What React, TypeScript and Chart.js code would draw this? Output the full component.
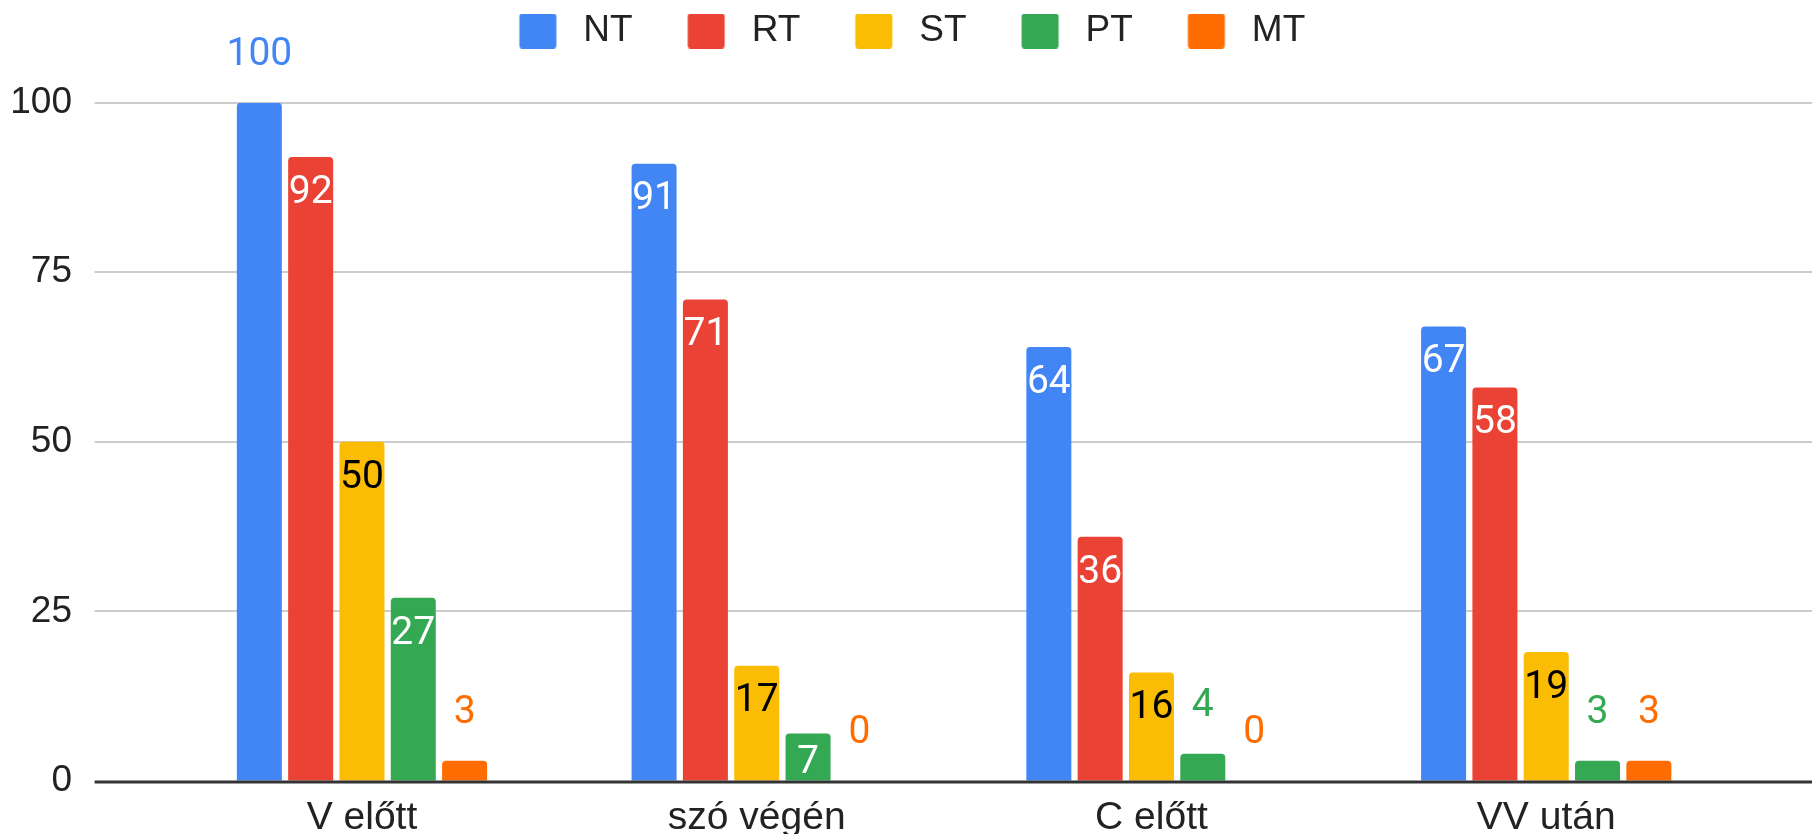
import React, { useEffect, useRef } from 'react';
import { Chart, registerables } from 'chart.js';

Chart.register(...registerables);

const categories = ['V előtt', 'szó végén', 'C előtt', 'VV után'];
const seriesNames = ['NT', 'RT', 'ST', 'PT', 'MT'];
const ntValues = [100, 91, 64, 67];
const rtValues = [92, 71, 36, 58];
const stValues = [50, 17, 16, 19];
const ptValues = [27, 7, 4, 3];
const mtValues = [3, 0, 0, 3];
const yTickValues = [0, 25, 50, 75, 100];

const seriesColors = ['#4285F4', '#EA4335', '#FBBC04', '#34A853', '#FF6D01'];
const insideTextColors = ['#ffffff', '#ffffff', '#000000', '#ffffff', '#ffffff'];

const AXIS_FONT = "'Liberation Sans', Arial, sans-serif";
const LABEL_FONT = "Roboto, 'Liberation Sans', Arial, sans-serif";

function makeSwatch(color: string): HTMLCanvasElement {
  const c = document.createElement('canvas');
  c.width = 88;
  c.height = 35;
  const g = c.getContext('2d')!;
  g.fillStyle = color;
  g.beginPath();
  if ((g as any).roundRect) {
    (g as any).roundRect(42.5, 0, 37, 35, 3);
  } else {
    g.rect(42.5, 0, 37, 35);
  }
  g.fill();
  return c;
}

const legendHeightPlugin = {
  id: 'legendHeight',
  beforeLayout(chart: any) {
    const lg = chart.legend;
    if (lg && !lg.__patched) {
      const orig = lg.fit.bind(lg);
      lg.fit = function () {
        orig();
        this.height = 102.7;
      };
      lg.__patched = true;
    }
  },
};

const gridAndLabelsPlugin = {
  id: 'gridAndLabels',
  beforeDatasetsDraw(chart: any) {
    const ys = chart.scales.y;
    const ctx = chart.ctx;
    const left = chart.chartArea.left - 70;
    const right = chart.width;
    ctx.save();
    ctx.strokeStyle = '#cccccc';
    ctx.lineWidth = 2;
    ys.ticks.forEach((t: any) => {
      if (t.value === 0) return;
      const py = Math.round(ys.getPixelForValue(t.value));
      ctx.beginPath();
      ctx.moveTo(left, py);
      ctx.lineTo(right, py);
      ctx.stroke();
    });
    ctx.restore();
  },
  afterDatasetsDraw(chart: any) {
    const ys = chart.scales.y;
    const ctx = chart.ctx;
    const left = chart.chartArea.left - 70;
    const right = chart.width;
    const y0 = ys.getPixelForValue(0);
    ctx.save();
    ctx.strokeStyle = '#333333';
    ctx.lineWidth = 3;
    ctx.beginPath();
    ctx.moveTo(left, y0 + 1);
    ctx.lineTo(right, y0 + 1);
    ctx.stroke();

    ctx.font = `39px ${LABEL_FONT}`;
    ctx.textAlign = 'center';
    ctx.textBaseline = 'middle';
    chart.data.datasets.forEach((ds: any, di: number) => {
      const meta = chart.getDatasetMeta(di);
      meta.data.forEach((bar: any, i: number) => {
        const v = ds.data[i];
        const p = bar.getProps(['x', 'y', 'base', 'width'], true);
        const text = String(v);
        const tw = ctx.measureText(text).width;
        const h = p.base - p.y;
        if (tw <= p.width + 2 && h >= 40) {
          const ty = p.y + Math.min(36, h / 2 + 6);
          ctx.lineWidth = 3;
          ctx.lineJoin = 'round';
          ctx.strokeStyle = seriesColors[di];
          ctx.strokeText(text, p.x, ty);
          ctx.fillStyle = insideTextColors[di];
          ctx.fillText(text, p.x, ty);
        } else {
          const ty = p.y - 47.5;
          ctx.fillStyle = seriesColors[di];
          ctx.fillText(text, p.x, ty);
        }
      });
    });
    ctx.restore();
  },
};

export default function App() {
  const ref = useRef<HTMLCanvasElement | null>(null);

  useEffect(() => {
    document.body.style.margin = '0';
    const canvas = ref.current;
    if (!canvas) return;
    const swatches = seriesColors.map(makeSwatch);
    const values = [ntValues, rtValues, stValues, ptValues, mtValues];
    const chart = new Chart(canvas, {
      type: 'bar',
      data: {
        labels: categories,
        datasets: seriesNames.map((name, i) => ({
          label: name,
          data: values[i],
          backgroundColor: seriesColors[i],
          borderWidth: 0,
          borderRadius: 4,
          categoryPercentage: 0.65,
          barPercentage: 0.877,
          yAxisID: 'y',
        })),
      },
      options: {
        responsive: false,
        animation: false,
        events: [],
        layout: { padding: { left: 0, right: 29.9, top: 0, bottom: 0 } },
        plugins: {
          tooltip: { enabled: false },
          legend: {
            display: true,
            position: 'top',
            labels: {
              usePointStyle: true,
              pointStyleWidth: 88,
              boxHeight: 37,
              padding: 12.5,
              color: '#222222',
              font: { family: AXIS_FONT, size: 37 },
              generateLabels: (c: any) =>
                c.data.datasets.map((ds: any, i: number) => ({
                  text: ds.label,
                  fillStyle: seriesColors[i],
                  strokeStyle: seriesColors[i],
                  lineWidth: 0,
                  pointStyle: swatches[i],
                  hidden: !c.isDatasetVisible(i),
                  datasetIndex: i,
                  fontColor: '#222222',
                })),
            },
          },
        },
        scales: {
          x: {
            offset: true,
            grid: { display: false, drawTicks: false },
            border: { display: false },
            ticks: {
              color: '#222222',
              font: { family: AXIS_FONT, size: 39 },
              padding: 13.8,
              autoSkip: false,
              maxRotation: 0,
            },
            afterFit: (scale: any) => {
              scale.height = 53;
            },
          },
          y: {
            position: 'left',
            min: 0,
            max: 100,
            grid: {
              display: true,
              drawOnChartArea: false,
              drawTicks: true,
              tickLength: 92.6,
              color: 'rgba(0,0,0,0)',
            },
            border: { display: false },
            afterBuildTicks: (scale: any) => {
              scale.ticks = yTickValues.map((v) => ({ value: v }));
            },
            ticks: {
              color: '#222222',
              font: { family: AXIS_FONT, size: 37 },
              padding: 0,
            },
            afterFit: (scale: any) => {
              scale.width = 164.6;
            },
          },
          yPad: {
            type: 'linear',
            position: 'right',
            display: true,
            grid: { display: false, drawTicks: false },
            border: { display: false },
            ticks: { display: false },
            afterFit: (scale: any) => {
              scale.width = 38.5;
            },
          },
        },
      },
      plugins: [legendHeightPlugin, gridAndLabelsPlugin],
    } as any);
    return () => chart.destroy();
  }, []);

  return (
    <div style={{ position: 'absolute', left: 0, top: 0, width: 1812, height: 834, background: '#ffffff' }}>
      <canvas ref={ref} width={1812} height={834} style={{ display: 'block' }} />
    </div>
  );
}
